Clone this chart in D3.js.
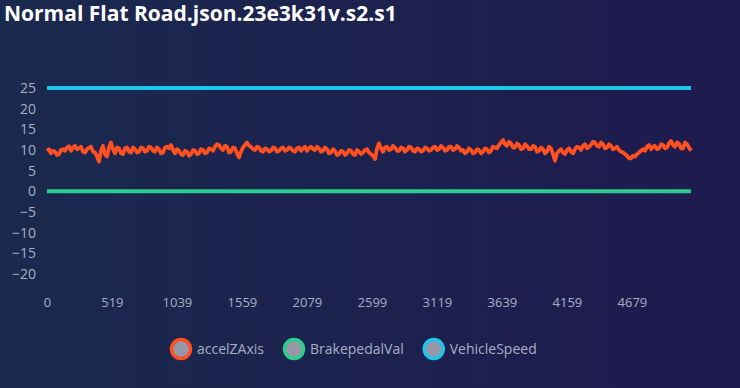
<!DOCTYPE html>
<html>
<head>
<meta charset="utf-8">
<script src="https://cdn.jsdelivr.net/npm/d3@7"></script>
<style>
  html, body { margin: 0; padding: 0; background: #1c2150; }
  svg { display: block; }
</style>
</head>
<body>
<div id="plot"></div>
<script>
// data
const title = "Normal Flat Road.json.23e3k31v.s2.s1";
const seriesNames = ["accelZAxis", "BrakepedalVal", "VehicleSpeed"];
const seriesColors = ["#ff5022", "#2bce8d", "#1ec5ea"];
const xTicks = [0, 519, 1039, 1559, 2079, 2599, 3119, 3639, 4159, 4679];
const yTicks = [25, 20, 15, 10, 5, 0, -5, -10, -15, -20];
const sampleStep = 16; // one value per sample step
const accelZAxis = [
  9.8, 10.2, 9.2, 9.8, 9.6, 8.8, 9.0, 10.0, 10.2, 9.8, 10.6, 10.9, 9.8, 10.6, 11.0, 10.2,
  10.4, 10.8, 9.6, 9.4, 10.2, 10.5, 10.8, 9.6, 9.4, 8.4, 7.2, 9.8, 11.0, 9.0, 8.4, 10.6,
  11.8, 10.2, 9.2, 10.6, 10.4, 9.2, 9.0, 10.4, 10.6, 9.6, 9.4, 10.6, 10.2, 9.4, 9.6, 10.6,
  10.4, 9.6, 9.8, 10.8, 10.6, 9.8, 9.6, 10.6, 10.2, 9.2, 9.4, 10.6, 10.8, 10.4, 11.2, 10.0,
  9.2, 10.2, 9.8, 9.0, 8.8, 9.8, 9.6, 8.6, 9.0, 10.0, 9.8, 9.0, 9.2, 10.2, 10.0, 9.2,
  9.4, 10.4, 10.2, 9.8, 10.8, 11.4, 11.2, 10.4, 10.0, 11.0, 10.8, 9.4, 9.6, 10.6, 10.4, 9.2,
  8.2, 9.6, 10.6, 11.2, 11.8, 11.0, 10.8, 10.2, 10.0, 10.8, 10.6, 9.8, 9.6, 10.4, 10.2, 9.6,
  9.8, 10.6, 10.4, 9.6, 9.8, 10.4, 10.6, 9.8, 10.0, 10.6, 10.4, 9.8, 9.6, 10.4, 10.6, 9.8,
  10.4, 10.8, 9.8, 10.4, 10.8, 10.2, 10.0, 10.8, 10.4, 9.6, 9.8, 10.6, 10.2, 9.2, 9.4, 10.2,
  9.8, 8.8, 9.0, 9.8, 9.6, 8.8, 9.2, 10.0, 9.8, 9.0, 8.8, 10.0, 9.6, 9.0, 9.4, 10.0,
  10.2, 9.4, 9.0, 8.6, 7.8, 10.4, 11.6, 10.4, 9.6, 10.6, 10.8, 10.0, 10.2, 11.0, 10.6, 9.8,
  9.8, 10.6, 10.4, 9.6, 10.0, 10.8, 10.6, 9.8, 9.6, 10.4, 10.2, 9.6, 9.8, 10.6, 10.4, 9.8,
  10.0, 10.6, 10.8, 10.0, 10.2, 11.0, 10.6, 9.8, 10.0, 10.8, 10.8, 10.0, 10.2, 11.0, 10.6, 9.8,
  10.0, 9.2, 9.6, 10.4, 10.0, 9.2, 9.4, 10.2, 10.0, 9.2, 9.6, 10.4, 10.2, 9.4, 9.8, 10.8,
  10.6, 10.4, 11.2, 11.8, 12.4, 11.4, 11.0, 12.0, 11.6, 10.6, 10.6, 11.6, 11.2, 10.2, 10.4, 11.4,
  11.0, 10.2, 10.2, 11.0, 10.8, 9.6, 9.8, 10.6, 10.2, 9.2, 9.6, 10.8, 10.4, 9.0, 7.4, 9.2,
  9.8, 10.2, 9.4, 9.0, 10.0, 10.4, 9.6, 9.2, 10.2, 10.8, 10.6, 10.0, 11.0, 11.4, 10.4, 10.8,
  11.2, 12.0, 11.8, 11.0, 10.8, 11.8, 11.4, 10.4, 10.6, 11.4, 11.0, 10.2, 10.4, 10.8, 10.0, 9.6,
  9.4, 9.0, 8.6, 8.0, 8.0, 8.6, 8.4, 9.0, 9.4, 9.8, 10.2, 9.8, 10.8, 11.2, 10.2, 10.8,
  11.0, 10.2, 10.4, 11.4, 11.2, 10.4, 10.6, 11.6, 12.2, 11.2, 10.8, 11.8, 11.6, 10.4, 10.4, 11.8,
  11.4, 10.6, 9.8
];
const brakepedalVal = [0, 0];
const vehicleSpeed = [25, 25];

const width = 740, height = 388;
const margin = { left: 47, right: 49, top: 88, bottom: 114 };
const xMax = (accelZAxis.length - 1) * sampleStep;

const svg = d3.select("#plot").append("svg")
  .attr("width", width)
  .attr("height", height);

// background gradient
const grad = svg.append("defs").append("linearGradient")
  .attr("id", "bg").attr("x1", "0").attr("x2", "1").attr("y1", "0").attr("y2", "0");
grad.append("stop").attr("offset", "0%").attr("stop-color", "#1a294e");
grad.append("stop").attr("offset", "100%").attr("stop-color", "#1f1a4e");
svg.append("rect").attr("width", width).attr("height", height).attr("fill", "url(#bg)");

const x = d3.scaleLinear().domain([0, xMax]).range([margin.left, width - margin.right]);
const y = d3.scaleLinear().domain([-20, 25]).range([height - margin.bottom, margin.top]);

const fontFamily = "'Open Sans', 'Noto Sans', sans-serif";
const tickColor = "#a7afc4";

// title
svg.append("text")
  .attr("x", 4).attr("y", 21)
  .attr("fill", "#ffffff")
  .attr("font-family", fontFamily)
  .attr("font-weight", 700)
  .attr("font-size", "21px")
  .text(title);

// y axis
const yAxis = svg.append("g")
  .attr("transform", "translate(36,0)")
  .call(d3.axisLeft(y).tickValues(yTicks).tickSize(0).tickPadding(0));
yAxis.select(".domain").remove();
yAxis.selectAll("text")
  .attr("fill", tickColor)
  .attr("font-family", fontFamily)
  .attr("font-size", "14px");

// x axis
const xAxis = svg.append("g")
  .attr("transform", "translate(0,298)")
  .call(d3.axisBottom(x).tickValues(xTicks).tickFormat(d3.format("d")).tickSize(0).tickPadding(0));
xAxis.select(".domain").remove();
xAxis.selectAll("text")
  .attr("fill", tickColor)
  .attr("font-family", fontFamily)
  .attr("font-size", "13px");

// lines
const line = d3.line()
  .x(d => x(d[0]))
  .y(d => y(d[1]));

const flat = vals => vals.map((v, i) => [i * xMax / (vals.length - 1), v]);

svg.append("path")
  .datum(flat(vehicleSpeed))
  .attr("fill", "none")
  .attr("stroke", seriesColors[2])
  .attr("stroke-width", 4)
  .attr("d", line);

svg.append("path")
  .datum(flat(brakepedalVal))
  .attr("fill", "none")
  .attr("stroke", seriesColors[1])
  .attr("stroke-width", 4)
  .attr("d", line);

svg.append("path")
  .datum(accelZAxis.map((v, i) => [i * sampleStep, v]))
  .attr("fill", "none")
  .attr("stroke", seriesColors[0])
  .attr("stroke-width", 3.8)
  .attr("stroke-linejoin", "round")
  .attr("d", line);

// legend
const legend = svg.append("g").attr("transform", "translate(0,349)");
let lx = 181;
seriesNames.forEach((name, i) => {
  const item = legend.append("g");
  item.append("circle")
    .attr("cx", lx).attr("cy", 0).attr("r", 9.5)
    .attr("fill", "#9698aa")
    .attr("stroke", seriesColors[i])
    .attr("stroke-width", 3.5);
  const t = item.append("text")
    .attr("x", lx + 16).attr("y", 0)
    .attr("dy", "0.35em")
    .attr("fill", tickColor)
    .attr("font-family", fontFamily)
    .attr("font-size", "14px")
    .text(name);
  lx += 16 + t.node().getComputedTextLength() + 30;
});
</script>
</body>
</html>
